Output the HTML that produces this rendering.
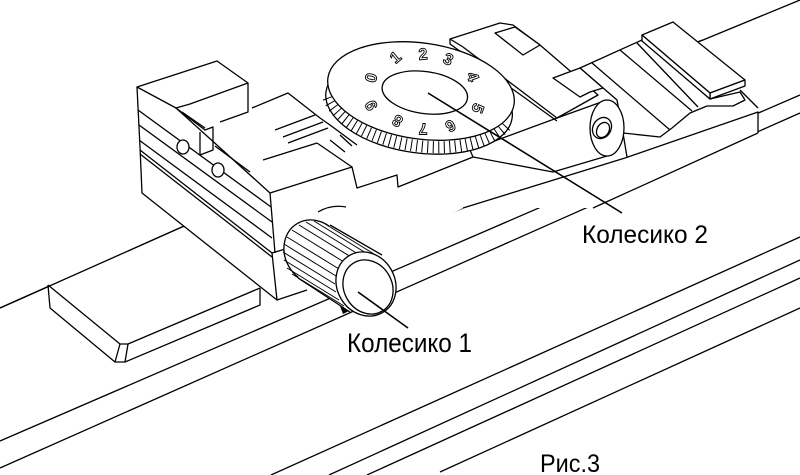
<!DOCTYPE html>
<html><head><meta charset="utf-8"><style>
html,body{margin:0;padding:0;background:#fff;}
svg{display:block;}
text{font-family:"Liberation Sans",sans-serif;}
</style></head><body>
<svg width="800" height="475" viewBox="0 0 800 475" xmlns="http://www.w3.org/2000/svg">
<g fill="none" stroke="#000" stroke-width="1.3" stroke-linejoin="round">
<!-- rails -->
<polyline points="0,308 182,227 703,40 800,0"/>
<line x1="0" y1="441" x2="800" y2="95"/>
<line x1="0" y1="468" x2="800" y2="113"/>
<line x1="271" y1="475" x2="800" y2="237"/>
<line x1="329" y1="475" x2="800" y2="260"/>
<line x1="367" y1="475" x2="800" y2="278"/>
<line x1="440" y1="472" x2="800" y2="308"/>
<!-- plate -->
<polygon points="48,285 182,227 270,290 260,305 125,362 115,362 50,308" fill="#fff" stroke="none"/>
<polyline points="48,285 50,308 115,362 125,362 260,305 260,288"/>
<polyline points="48,285 120,344 128,344 260,288"/>
<polyline points="120,344 115,362"/><polyline points="128,344 125,362"/>
<polyline points="0,308 182,227 703,40"/>
<line x1="300" y1="278" x2="463" y2="208"/>
<!-- carriage backing -->
<polygon points="137,87 217,61 250,83 330,80 450,40 505,22 545,45 580,68 642,35 673,22 745,80 758,108 758,133 593,208 463,208 290,300 277,300 142,193" fill="#fff" stroke="none"/>
<!-- left block -->
<polygon points="137,87 217,61 248,83 190,104 176,108" fill="#fff"/>
<polyline points="248,83 248,112 220,122"/>
<polyline points="137,87 140,147 142,193 277,300 307,290"/>
<line x1="140" y1="150" x2="272" y2="253"/>
<line x1="140" y1="154" x2="272" y2="257"/>
<polyline points="272,253 277,300"/>
<polyline points="272,253 292,247"/>
<line x1="176" y1="108" x2="270" y2="193"/>
<line x1="138" y1="110" x2="271" y2="207"/>
<line x1="139" y1="125" x2="272" y2="222"/>
<line x1="139" y1="140" x2="272" y2="238"/>
<polyline points="176,108 205,130 213,127 213,150 200,155 200,132"/>
<line x1="182" y1="112" x2="205" y2="128"/>
<line x1="215" y1="146" x2="250" y2="172"/>
<ellipse cx="183" cy="147" rx="6" ry="7" fill="#fff"/>
<ellipse cx="218" cy="170" rx="6" ry="7" fill="#fff"/>
<!-- middle body -->
<polyline points="270,193 352,167 357,188 397,175 398,187 473,157"/>
<line x1="270" y1="193" x2="275" y2="253"/>
<polyline points="252,108 288,93 320,118 330,125 357,145"/>
<line x1="263" y1="160" x2="317" y2="143"/>
<line x1="317" y1="143" x2="352" y2="167"/>
<line x1="275" y1="130" x2="315" y2="115"/>
<line x1="283" y1="137" x2="323" y2="122"/>
<line x1="288" y1="143" x2="328" y2="128"/>
<line x1="330" y1="140" x2="345" y2="152"/>
<line x1="340" y1="135" x2="352" y2="146"/>
<!-- right base -->
<line x1="463" y1="208" x2="625" y2="158"/>
<line x1="593" y1="208" x2="758" y2="133"/>
<polyline points="625,158 758,112 758,133"/>
<polyline points="740,90 758,108"/>
<!-- wedge -->
<polygon points="580,68 642,40 710,99 740,92 745,100 733,106 707,106 690,113 672,128 660,137 623,133 617,100" fill="#fff"/>
<line x1="592" y1="63" x2="670" y2="130"/>
<line x1="620" y1="50" x2="692" y2="111"/>
<line x1="637" y1="43" x2="698" y2="107"/>
<polyline points="623,133 627,157"/>
<!-- top plate -->
<polygon points="642,35 673,22 745,80 710,93" fill="#fff"/>
<polygon points="710,93 745,80 745,86 710,99" fill="#fff"/>
<polygon points="642,35 710,93 710,99 642,41" fill="#fff"/>
<!-- hinge arm -->
<polygon points="470,150 557,118 607,100 607,156 553,172 473,157" fill="#fff"/>
<polygon points="450,39 500,23 513,25 540,45 598,95 557,118 463,47" fill="#fff"/>
<polyline points="450,39 450,44 557,121"/>
<polygon points="495,33 515,27 540,45 523,55" fill="#fff"/>
<polygon points="553,78 580,68 603,88 590,92 580,97" fill="#fff"/>
<ellipse cx="607" cy="128" rx="17" ry="28" fill="#fff"/>
<ellipse cx="602" cy="128" rx="9" ry="11" fill="#fff" transform="rotate(30 602 128)"/>
<ellipse cx="603" cy="130" rx="6" ry="8" transform="rotate(30 603 130)"/>
<!-- dial -->
<g transform="rotate(8 421 91)">
<ellipse cx="421" cy="105" rx="94" ry="48" fill="#fff"/>
<path d="M330.2,110.4 A94,48 0 0 0 511.8,110.4" stroke-width="12" stroke-dasharray="1 4.5"/>
<ellipse cx="421" cy="91" rx="94" ry="48" fill="#fff"/>
<ellipse cx="425" cy="92" rx="43" ry="21" fill="#fff"/>
</g>
</g>
<g font-size="16" font-weight="bold" fill="#fff" stroke="#000" stroke-width="0.9" text-anchor="middle" dominant-baseline="central" font-family="Liberation Sans, sans-serif">
<text x="372" y="78" transform="rotate(-75 372 78)">0</text>
<text x="396" y="58" transform="rotate(-40 396 58)">1</text>
<text x="423" y="55" transform="rotate(-5 423 55)">2</text>
<text x="448" y="60" transform="rotate(25 448 60)">3</text>
<text x="472" y="77" transform="rotate(70 472 77)">4</text>
<text x="477" y="108" transform="rotate(110 477 108)">5</text>
<text x="450" y="125" transform="rotate(150 450 125)">6</text>
<text x="423" y="128" transform="rotate(180 423 128)">7</text>
<text x="398" y="120" transform="rotate(210 398 120)">8</text>
<text x="372" y="105" transform="rotate(245 372 105)">9</text>
</g>
<g fill="none" stroke="#000" stroke-width="1.3" stroke-linejoin="round">
<!-- knob 1 -->
<ellipse cx="314" cy="252" rx="29" ry="33" transform="rotate(-30 314 252)" fill="#fff"/>
<polygon points="330,225 382,255 350,312 298,278" fill="#fff" stroke="none"/>
<line x1="330" y1="225" x2="382" y2="255"/>
<line x1="298" y1="278" x2="350" y2="312"/>
<g stroke-width="1">
<line x1="292" y1="274" x2="344" y2="306"/>
<line x1="287" y1="268" x2="339" y2="300"/>
<line x1="284" y1="260" x2="336" y2="292"/>
<line x1="283" y1="252" x2="335" y2="284"/>
<line x1="284" y1="244" x2="336" y2="276"/>
<line x1="287" y1="237" x2="339" y2="269"/>
<line x1="292" y1="230" x2="344" y2="262"/>
<line x1="299" y1="225" x2="351" y2="257"/>
<line x1="306" y1="222" x2="358" y2="254"/>
<line x1="314" y1="221" x2="366" y2="253"/>
<line x1="322" y1="222" x2="374" y2="254"/>
</g>
<ellipse cx="366" cy="284" rx="29" ry="33" transform="rotate(-30 366 284)" fill="#fff"/>
<ellipse cx="368" cy="287" rx="24" ry="28" transform="rotate(-30 368 287)"/>
<path d="M318,212 A40,40 0 0 1 346,207"/>
<!-- leaders -->
<line x1="358" y1="292" x2="408" y2="328" stroke-width="1.6"/>
<line x1="428" y1="93" x2="622" y2="213" stroke-width="1.6"/>
</g>
<polygon points="340,306 349,311 343,314" fill="#000"/>
<text x="347" y="352" font-size="27" textLength="125" lengthAdjust="spacingAndGlyphs" fill="#000">Колесико 1</text>
<text x="582" y="243" font-size="25" textLength="126" lengthAdjust="spacingAndGlyphs" fill="#000">Колесико 2</text>
<text x="540" y="472" font-size="25" textLength="60" lengthAdjust="spacingAndGlyphs" fill="#000">Рис.3</text>
</svg>
</body></html>
